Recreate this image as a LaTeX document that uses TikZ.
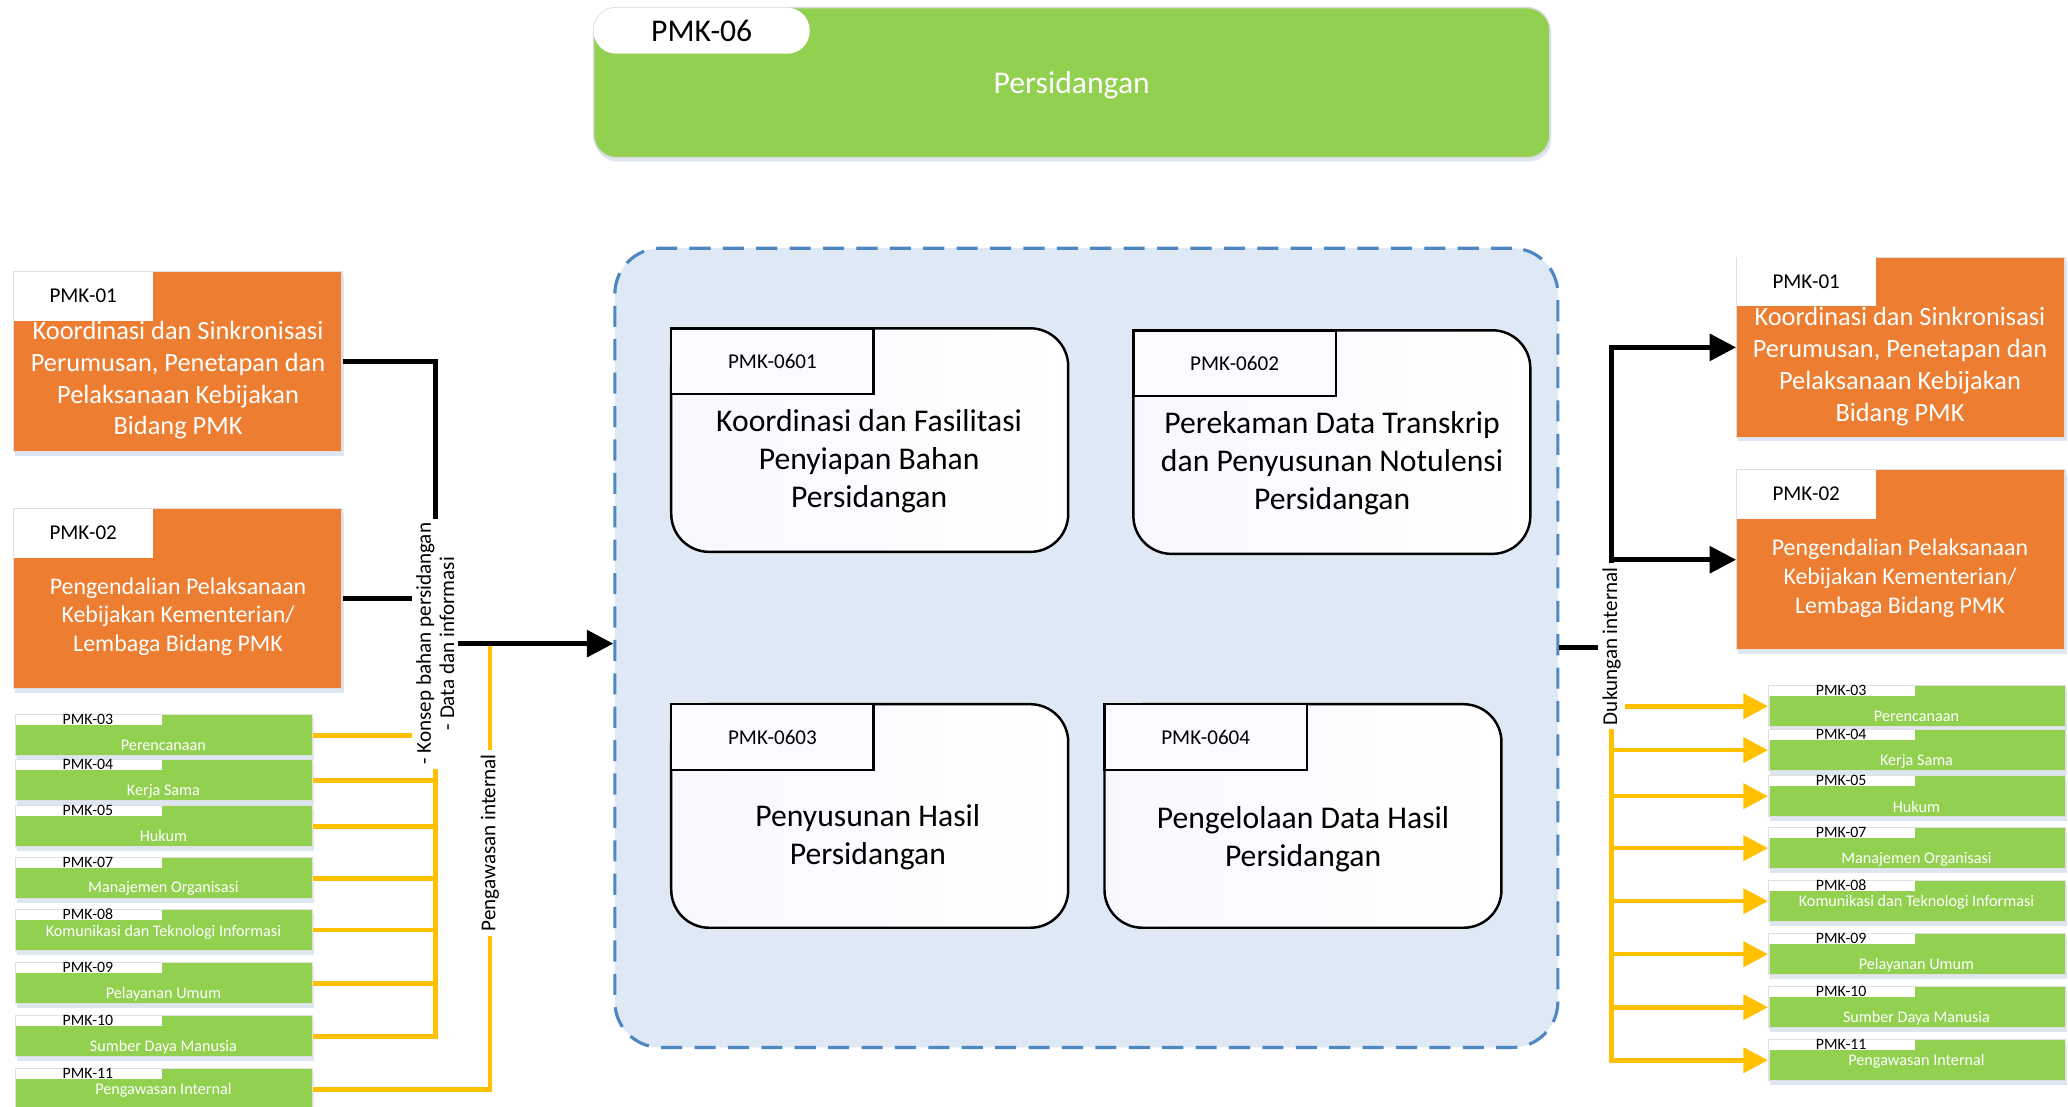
\documentclass[tikz,border=0pt]{standalone}
\usepackage{fontspec}
\setmainfont{Carlito}
\usetikzlibrary{arrows.meta,shadows}
\definecolor{pmkorange}{HTML}{ED7D31}
\definecolor{pmkgreen}{HTML}{92D050}
\definecolor{pmkyellow}{HTML}{FFC000}
\definecolor{contfill}{HTML}{DEE9F5}
\definecolor{contline}{HTML}{4F87C3}
\definecolor{shadowblue}{HTML}{B4C7E0}
\newcommand{\px}{0.013189cm}
\newcommand{\fsz}[2]{\fontsize{#1}{#2}\selectfont}

\begin{document}
\begin{tikzpicture}[x=\px, y=-\px,
  soft/.style={drop shadow={shadow xshift=.4pt, shadow yshift=-1.1pt, fill=shadowblue, opacity=.45}},
  obox/.style={soft, fill=pmkorange, draw=black!12, line width=.4pt, anchor=north west, inner sep=0pt, minimum width=249*\px, minimum height=136.5*\px},
  otab/.style={fill=white, anchor=north west, inner sep=0pt, minimum width=105.3*\px, minimum height=37*\px, font=\fsz{6}{7}},
  otext/.style={text=white, align=center, inner sep=0pt},
  gbox/.style={soft, fill=pmkgreen, draw=black!12, line width=.4pt, anchor=north west, inner sep=0pt, minimum width=225*\px, minimum height=31.1*\px},
  gtab/.style={fill=white, anchor=north west, inner sep=0pt, minimum width=110.6*\px, minimum height=7.6*\px},
  gcode/.style={inner sep=0pt, font=\fsz{4.5}{5}},
  gtext/.style={text=white, inner sep=0pt, font=\fsz{4.6}{5.5}},
  sub/.style={draw=black, line width=.7pt, left color=black!4!blue!3!white, right color=white, rounded corners=10.8pt, anchor=north west, inner sep=0pt, minimum width=301*\px, minimum height=169.5*\px},
  subtab/.style={draw=black, line width=.7pt, fill=black!2!blue!2!white, anchor=north west, inner sep=0pt, minimum width=153.5*\px, minimum height=49.8*\px, font=\fsz{6}{7}},
  subtext/.style={align=center, inner sep=0pt, font=\fsz{9}{10.8}},
  flowlabel/.style={rotate=90, inner sep=1pt, align=center, font=\fsz{6}{6.6}},
  bline/.style={line width=1.4pt},
  barrow/.style={bline, -{Triangle[length=7.5pt,width=7.5pt]}},
  yline/.style={draw=pmkyellow, line width=1.3pt},
  yarrow/.style={yline, -{Triangle[length=7pt,width=7pt]}}
]
\useasboundingbox (0,0) rectangle (1568,839);

% kepala
\node[soft, fill=pmkgreen, draw=black!15, line width=.4pt, rounded corners=6.4pt, anchor=north west, inner sep=0pt,
  minimum width=725*\px, minimum height=113.7*\px, text=white, text depth=0pt, font=\fsz{9}{11}] (pmk06) at (449.6,5.3) {Persidangan};
\node[fill=white, rounded corners=6.4pt, anchor=north west, inner sep=0pt,
  minimum width=163.8*\px, minimum height=34.9*\px, font=\fsz{9}{11}] (pmk06tab) at (449.6,5.3) {PMK-06};

% wadah
\node[fill=contfill, draw=contline, line width=.9pt, dash pattern=on 6pt off 3.5pt, rounded corners=13pt,
  anchor=north west, inner sep=0pt, minimum width=715*\px, minimum height=606*\px] (cont) at (465,187) {};

\node[sub] (s0601) at (508,248) {};
\node[subtab] (s0601tab) at (508,248) {PMK-0601};
\node[subtext] (s0601t) at (659,350) {Koordinasi dan Fasilitasi\\Penyiapan Bahan\\Persidangan};

\node[sub] (s0602) at (858.4,249.5) {};
\node[subtab] (s0602tab) at (858.4,249.5) {PMK-0602};
\node[subtext] (s0602t) at (1010,351.5) {Perekaman Data Transkrip\\dan Penyusunan Notulensi\\Persidangan};

\node[sub] (s0603) at (508,533) {};
\node[subtab] (s0603tab) at (508,533) {PMK-0603};
\node[subtext] (s0603t) at (658,635) {Penyusunan Hasil\\Persidangan};

\node[sub] (s0604) at (836.5,533) {};
\node[subtab] (s0604tab) at (836.5,533) {PMK-0604};
\node[subtext] (s0604t) at (988,636) {Pengelolaan Data Hasil\\Persidangan};

% kiri
\node[obox] (l1) at (9.9,205.5) {};
\node[otab] (l1tab) at (9.9,205.5) {PMK-01};
\node[otext, font=\fsz{7.5}{9.05}] (l1t) at (135,288.4) {Koordinasi dan Sinkronisasi\\Perumusan, Penetapan dan\\Pelaksanaan Kebijakan\\Bidang PMK};
\node[obox] (l2) at (9.9,385.2) {};
\node[otab] (l2tab) at (9.9,385.2) {PMK-02};
\node[otext, font=\fsz{6.8}{8.2}] (l2t) at (135,467.5) {Pengendalian Pelaksanaan\\Kebijakan Kementerian/\\Lembaga Bidang PMK};

\foreach \nr/\yy/\dy/\txt in {03/541.4/23.5/Perencanaan, 04/575.5/24.3/Kerja Sama, 05/610.4/23.5/Hukum,
  07/649.8/23.5/Manajemen Organisasi, 08/689.2/17.4/Komunikasi dan Teknologi Informasi,
  09/729.4/24.3/Pelayanan Umum, 10/769.6/24.3/Sumber Daya Manusia, 11/809.8/16.7/Pengawasan Internal}
{
  \node[gbox] (lg\nr) at (11.4,\yy) {};
  \node[gtab] (lgtab\nr) at (11.4,\yy) {};
  \node[gcode] (lgcode\nr) at (66.7,\yy+3.8) {PMK-\nr};
  \node[gtext] (lgtext\nr) at (123.9,\yy+\dy) {\txt};
}

% kanan
\node[obox] (r1) at (1316.3,194.6) {};
\node[otab] (r1tab) at (1316.3,194.6) {PMK-01};
\node[otext, font=\fsz{7.5}{9.05}] (r1t) at (1440.6,277.8) {Koordinasi dan Sinkronisasi\\Perumusan, Penetapan dan\\Pelaksanaan Kebijakan\\Bidang PMK};
\node[obox] (r2) at (1316.3,355.6) {};
\node[otab] (r2tab) at (1316.3,355.6) {PMK-02};
\node[otext, font=\fsz{6.8}{8.2}] (r2t) at (1440.6,438.5) {Pengendalian Pelaksanaan\\Kebijakan Kementerian/\\Lembaga Bidang PMK};

\foreach \nr/\yy/\dy/\txt in {03/519.4/23.5/Perencanaan, 04/552.7/24.3/Kerja Sama, 05/587.6/24.3/Hukum,
  07/627.0/24.3/Manajemen Organisasi, 08/667.2/16.7/Komunikasi dan Teknologi Informasi,
  09/707.4/24.3/Pelayanan Umum, 10/747.6/24.3/Sumber Daya Manusia, 11/787.8/16.7/Pengawasan Internal}
{
  \node[gbox] (rg\nr) at (1340.6,\yy) {};
  \node[gtab] (rgtab\nr) at (1340.6,\yy) {};
  \node[gcode] (rgcode\nr) at (1396,\yy+3.8) {PMK-\nr};
  \node[gtext] (rgtext\nr) at (1453.1,\yy+\dy) {\txt};
}

% label alur
\node[flowlabel] (konsep) at (330,488) {- Konsep bahan persidangan\\- Data dan informasi};
\node[flowlabel] (pgw) at (371.5,639) {Pengawasan internal};
\node[flowlabel] (dukung) at (1222,490) {Dukungan internal};
\coordinate (pj) at (371.5,488);

% penghubung kiri
\draw[bline] (l1.east) -| (konsep.east);
\draw[bline] (l2.east) -- (l2.east -| konsep.north);
\draw[yline] (lg03.east) -- (lg03.east -| konsep.north);
\foreach \nr in {04,05,07,08,09,10} \draw[yline] (lg\nr.east) -| (konsep.west);
\draw[yline] (pgw.west) |- (lg11.east);
\draw[yline] (pgw.east) -- (pj);
\draw[barrow] (konsep.south) -- (konsep.south -| cont.west);

% penghubung kanan
\draw[bline] (cont.east) -- (cont.east -| dukung.north);
\draw[barrow] (dukung.east) |- (r1.west);
\draw[barrow] (dukung.east) |- (r2.west);
\draw[yarrow] (dukung.south |- rg03.west) -- (rg03.west);
\foreach \nr in {04,05,07,08,09,10,11} \draw[yarrow] (dukung.west) |- (rg\nr.west);
\end{tikzpicture}
\end{document}
